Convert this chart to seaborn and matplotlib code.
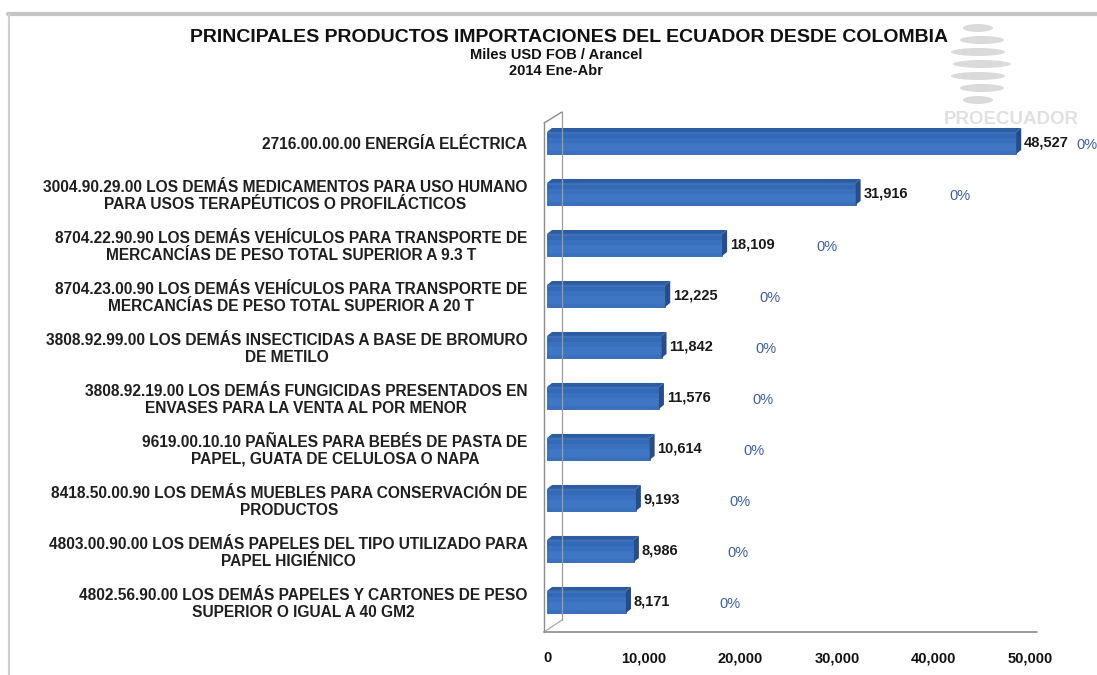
import matplotlib
matplotlib.use("Agg")
import matplotlib.pyplot as plt
from matplotlib.patches import Polygon, Ellipse
from matplotlib.lines import Line2D
import seaborn as sns
import pandas as pd

# --- data -------------------------------------------------------------------
products = [
    "2716.00.00.00 ENERGÍA ELÉCTRICA",
    "3004.90.29.00 LOS DEMÁS MEDICAMENTOS PARA USO HUMANO\nPARA USOS TERAPÉUTICOS O PROFILÁCTICOS",
    "8704.22.90.90 LOS DEMÁS VEHÍCULOS PARA TRANSPORTE DE\nMERCANCÍAS DE PESO TOTAL SUPERIOR A 9.3 T",
    "8704.23.00.90 LOS DEMÁS VEHÍCULOS PARA TRANSPORTE DE\nMERCANCÍAS DE PESO TOTAL SUPERIOR A 20 T",
    "3808.92.99.00 LOS DEMÁS INSECTICIDAS A BASE DE BROMURO\nDE METILO",
    "3808.92.19.00 LOS DEMÁS FUNGICIDAS PRESENTADOS EN\nENVASES PARA LA VENTA AL POR MENOR",
    "9619.00.10.10 PAÑALES PARA BEBÉS DE PASTA DE\nPAPEL, GUATA DE CELULOSA O NAPA",
    "8418.50.00.90 LOS DEMÁS MUEBLES PARA CONSERVACIÓN DE\nPRODUCTOS",
    "4803.00.90.00 LOS DEMÁS PAPELES DEL TIPO UTILIZADO PARA\nPAPEL HIGIÉNICO",
    "4802.56.90.00 LOS DEMÁS PAPELES Y CARTONES DE PESO\nSUPERIOR O IGUAL A 40 GM2",
]
fob_values = [48527, 31916, 18109, 12225, 11842, 11576, 10614, 9193, 8986, 8171]
shares = ["0%", "0%", "0%", "0%", "0%", "0%", "0%", "0%", "0%", "0%"]
x_ticks = [0, 10000, 20000, 30000, 40000, 50000]

title_lines = [
    "PRINCIPALES PRODUCTOS IMPORTACIONES DEL ECUADOR DESDE COLOMBIA",
    "Miles USD FOB / Arancel",
    "2014 Ene-Abr",
]

df = pd.DataFrame({"producto": products, "valor": fob_values, "part": shares})

# --- style ------------------------------------------------------------------
sns.set_theme(style="white")
plt.rcParams["font.family"] = ["Liberation Sans", "DejaVu Sans"]

W, H = 1097, 675
fig = plt.figure(figsize=(W / 100, H / 100), dpi=100)
fig.patch.set_facecolor("white")

# axes placed in pixel terms
ax_left, ax_right, ax_top, ax_bottom = 547, 1045, 120, 632
XMAX = 51500
ax = fig.add_axes([ax_left / W, 1 - ax_bottom / H,
                   (ax_right - ax_left) / W, (ax_bottom - ax_top) / H])
ax.set_facecolor("none")

front = "#3a71bf"
sns.barplot(data=df, x="valor", y="producto", orient="h", color=front,
            width=0.43, saturation=1, ax=ax, zorder=3)

ax.set_xlim(0, XMAX)
ax.set_ylim(9.59, -0.45)
ax.set_xticks(x_ticks)
ax.set_xticklabels([f"{t:,}" for t in x_ticks], fontsize=10.5, fontweight="bold",
                   color="#111111")
ax.tick_params(axis="x", length=0, pad=14)
ax.tick_params(axis="y", length=0, pad=14)
for lab in ax.get_yticklabels():
    lab.set_fontsize(11.2)
    lab.set_fontweight("bold")
    lab.set_color("#1f1f1f")
    lab.set_multialignment("center")
    lab.set_linespacing(1.1)
ax.set_xlabel("")
ax.set_ylabel("")
for s in ax.spines.values():
    s.set_visible(False)

# pixel -> data conversion for the 3D look
x_per_px = XMAX / (ax_right - ax_left)
y_per_px = (9.59 + 0.45) / (ax_bottom - ax_top)
dx, dy = 5 * x_per_px, 4 * y_per_px

for bar in ax.patches[: len(fob_values)]:
    x0, y0 = bar.get_x(), bar.get_y()
    w, h = bar.get_width(), bar.get_height()
    bar.set_edgecolor("#2f62aa")
    bar.set_linewidth(0.6)
    x1 = x0 + w
    ytop, ybot = y0, y0 + h
    top = Polygon([(x0, ytop), (x1, ytop), (x1 + dx, ytop - dy), (x0 + dx, ytop - dy)],
                  closed=True, facecolor="#2c5da3", edgecolor="none", zorder=3)
    side = Polygon([(x1, ytop), (x1, ybot), (x1 + dx, ybot - dy), (x1 + dx, ytop - dy)],
                   closed=True, facecolor="#244d8a", edgecolor="none", zorder=3)
    ax.add_patch(top)
    ax.add_patch(side)
    # soft shading on the front face
    ax.add_patch(plt.Rectangle((x0, y0 + h * 0.08), w, h * 0.2, facecolor="#3064ad",
                               edgecolor="none", zorder=3.2, alpha=0.5))
    ax.add_patch(plt.Rectangle((x0, y0 + h * 0.5), w, h * 0.38, facecolor="#4781cd",
                               edgecolor="none", zorder=3.2, alpha=0.35))

# value and share labels
share_cap = (1076 - ax_left) * x_per_px
for i, (v, p) in enumerate(zip(fob_values, shares)):
    ax.text(v + dx + 300, i, f"{v:,}", va="center", ha="left", fontsize=10.5,
            fontweight="bold", color="#1a1a1a", zorder=5)
    ax.text(min(v + 9700, share_cap), i + 0.05, p, va="center", ha="left", fontsize=10.5,
            color="#3d5fa3", zorder=5, clip_on=False)

# 3D wall / floor frame in figure pixels
def fline(xs, ys, **kw):
    fig.add_artist(Line2D([x / W for x in xs], [1 - y / H for y in ys],
                          transform=fig.transFigure, **kw))

wall = dict(color="#8c8c8c", lw=1.0, zorder=1)
fline([544, 544], [123, 632], **wall)
fline([562, 562], [112, 620], color="#9a9a9a", lw=0.9, zorder=1)
fline([544, 562], [123, 112], **wall)
fline([544, 562], [632, 620], color="#a8a8a8", lw=0.9, zorder=1)
fline([544, ax_right - 8], [632, 632], color="#8c8c8c", lw=1.2, zorder=1)

# page frame
fline([8, W], [14, 14], color="#c4c4c4", lw=3.0, zorder=0)
fline([9, 9], [14, H], color="#cfcfcf", lw=1.5, zorder=0)

# watermark logo
for k in range(7):
    cy = 28 + k * 12
    wid = [30, 44, 54, 58, 54, 44, 30][k]
    fig.add_artist(Ellipse(((978 + (k % 2) * 4) / W, 1 - cy / H), wid / W, 8 / H,
                           transform=fig.transFigure, facecolor="#dadada",
                           edgecolor="none", zorder=-2))
fig.text(944 / W, 1 - 119 / H, "PROECUADOR", ha="left", va="center",
         fontsize=13.5, fontweight="bold", color="#e0e0e0", zorder=-2)

# title
fig.text(569 / W, 1 - 37 / H, title_lines[0], ha="center", va="center",
         fontsize=14, fontweight="bold", color="#111111")
fig.text(556 / W, 1 - 55 / H, title_lines[1], ha="center", va="center",
         fontsize=10.5, fontweight="bold", color="#111111")
fig.text(556 / W, 1 - 71 / H, title_lines[2], ha="center", va="center",
         fontsize=10.5, fontweight="bold", color="#111111")

fig.savefig("out.png", dpi=100)
